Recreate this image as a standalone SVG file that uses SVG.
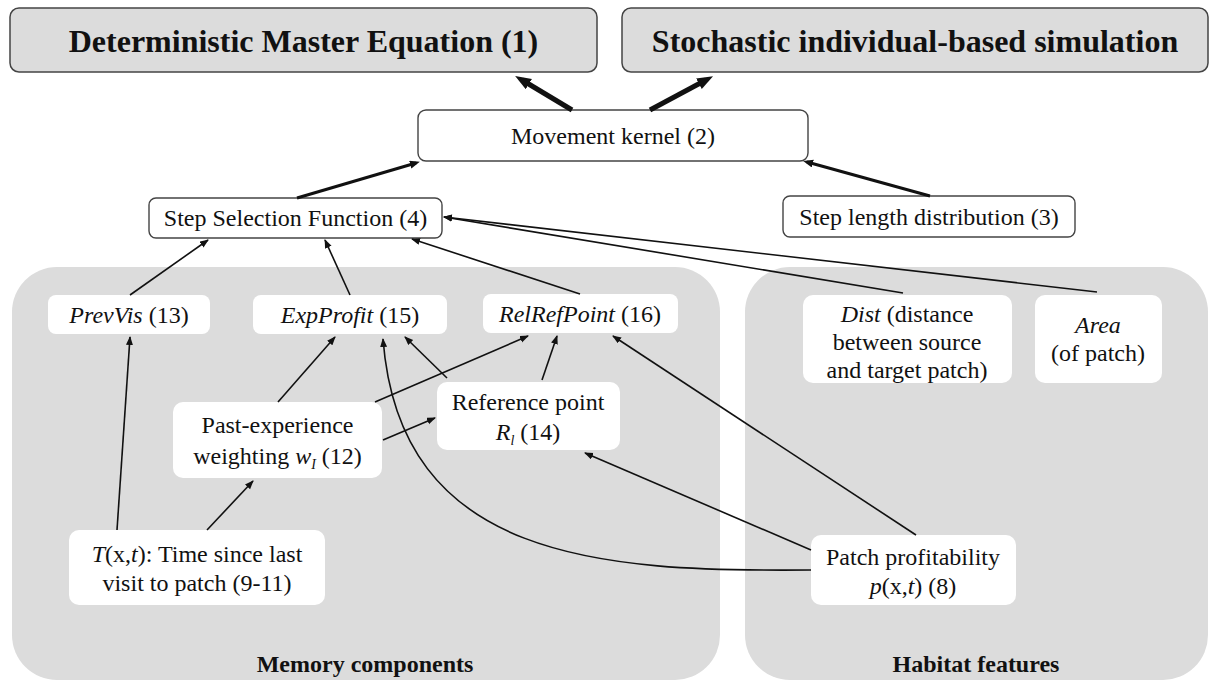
<svg xmlns="http://www.w3.org/2000/svg" width="1219" height="684" viewBox="0 0 1219 684">
<style>
text{font-family:"Liberation Serif","Times New Roman",serif;fill:#111;}
.t{font-size:24px;text-anchor:middle;}
.h{font-size:32px;font-weight:bold;text-anchor:middle;}
.lbl{font-size:24px;font-weight:bold;text-anchor:middle;}
.panel{fill:#dcdcdc;}
.top{fill:#dcdcdc;stroke:#444;stroke-width:1.5;}
.box{fill:#fff;stroke:#444;stroke-width:1.4;}
.wb{fill:#fff;}
.i{font-style:italic;}
.c1{fill:none;stroke:#111;stroke-width:1.6;marker-end:url(#a1);}
.c2{fill:none;stroke:#111;stroke-width:3;marker-end:url(#a2);}
.c3{fill:none;stroke:#111;stroke-width:5;marker-end:url(#a3);}
</style>
<defs>
<marker id="a1" markerUnits="userSpaceOnUse" markerWidth="10" markerHeight="8" refX="8" refY="3.5" orient="auto"><path d="M0,0 L9,3.5 L0,7 z" fill="#111"/></marker>
<marker id="a2" markerUnits="userSpaceOnUse" markerWidth="12" markerHeight="10" refX="6" refY="4" orient="auto"><path d="M0,0 L10,4 L0,8 z" fill="#111"/></marker>
<marker id="a3" markerUnits="userSpaceOnUse" markerWidth="18" markerHeight="14" refX="8" refY="6" orient="auto"><path d="M0,0 L16,6 L0,12 z" fill="#111"/></marker>
</defs>

<g id="panel-memory"><rect class="panel" x="12" y="267" width="708" height="413" rx="45"/><text class="lbl" x="365" y="672">Memory components</text></g>
<g id="panel-habitat"><rect class="panel" x="745" y="267" width="463" height="413" rx="45"/><text class="lbl" x="976" y="672">Habitat features</text></g>

<g id="n-dme"><rect class="top" x="10" y="8" width="587" height="64" rx="9"/><text class="h" x="303.5" y="52">Deterministic Master Equation (1)</text></g>
<g id="n-sim"><rect class="top" x="622" y="8" width="586" height="64" rx="9"/><text class="h" x="915" y="52">Stochastic individual-based simulation</text></g>
<g id="n-mk"><rect class="box" x="418" y="110" width="390" height="51" rx="8"/><text class="t" x="613" y="144">Movement kernel (2)</text></g>
<g id="n-ssf"><rect class="box" x="149" y="198" width="293" height="40" rx="7"/><text class="t" x="295.5" y="226">Step Selection Function (4)</text></g>
<g id="n-sl"><rect class="box" x="783" y="196" width="292" height="41" rx="7"/><text class="t" x="929" y="225">Step length distribution (3)</text></g>

<g id="n-prevvis"><rect class="wb" x="48" y="295" width="162" height="39" rx="8"/><text class="t" x="129" y="323"><tspan class="i">PrevVis</tspan> (13)</text></g>
<g id="n-expprofit"><rect class="wb" x="253" y="295" width="194" height="39" rx="8"/><text class="t" x="350" y="323"><tspan class="i">ExpProfit</tspan> (15)</text></g>
<g id="n-relref"><rect class="wb" x="483" y="294" width="195" height="39" rx="8"/><text class="t" x="580" y="322"><tspan class="i">RelRefPoint</tspan> (16)</text></g>
<g id="n-past"><rect class="wb" x="173" y="402" width="209" height="76" rx="10"/><text class="t" x="277.5" y="433">Past-experience</text><text class="t" x="277.5" y="464">weighting <tspan class="i">w</tspan><tspan class="i" font-size="14" dy="5">I</tspan><tspan dy="-5"> (12)</tspan></text></g>
<g id="n-refpt"><rect class="wb" x="437" y="382" width="183" height="68" rx="10"/><text class="t" x="528" y="410">Reference point</text><text class="t" x="528" y="440"><tspan class="i">R</tspan><tspan class="i" font-size="14" dy="5">l</tspan><tspan dy="-5"> (14)</tspan></text></g>
<g id="n-time"><rect class="wb" x="69" y="530" width="256" height="75" rx="10"/><text class="t" x="197" y="562"><tspan class="i">T</tspan>(x,<tspan class="i">t</tspan>): Time since last</text><text class="t" x="197" y="591">visit to patch (9-11)</text></g>
<g id="n-dist"><rect class="wb" x="803" y="295" width="209" height="88" rx="10"/><text class="t" x="907" y="322"><tspan class="i">Dist</tspan> (distance</text><text class="t" x="907" y="350">between source</text><text class="t" x="907" y="378">and target patch)</text></g>
<g id="n-area"><rect class="wb" x="1035" y="295" width="127" height="88" rx="10"/><text class="t" x="1098" y="333" font-style="italic">Area</text><text class="t" x="1098" y="361">(of patch)</text></g>
<g id="n-patch"><rect class="wb" x="811" y="535" width="205" height="70" rx="10"/><text class="t" x="913" y="565">Patch profitability</text><text class="t" x="913" y="594"><tspan class="i">p</tspan>(x,<tspan class="i">t</tspan>) (8)</text></g>

<g id="connectors">
<path class="c3" d="M572,110 L522,80"/>
<path class="c3" d="M650,110 L706,80"/>
<path class="c2" d="M297,198 L416,163"/>
<path class="c2" d="M930,196 L807,162"/>
<path class="c1" d="M130,295 L208,240"/>
<path class="c1" d="M350,295 L325,240"/>
<path class="c1" d="M580,294 L412,239"/>
<path class="c1" d="M903,293 L444,217"/>
<path class="c1" d="M1097,292 L444,217"/>
<path class="c1" d="M117,530 L130,337"/>
<path class="c1" d="M207,530 L253,481"/>
<path class="c1" d="M278,402 L335,337"/>
<path class="c1" d="M375,402 L528,336"/>
<path class="c1" d="M383,440 L435,418"/>
<path class="c1" d="M542,380 L557,336"/>
<path class="c1" d="M447,378 L405,337"/>
<path class="c1" d="M916,535 L613,336"/>
<path class="c1" d="M811,550 L585,453"/>
<path class="c1" d="M811,570 C600,572 400,560 383,339"/>
</g>
</svg>
